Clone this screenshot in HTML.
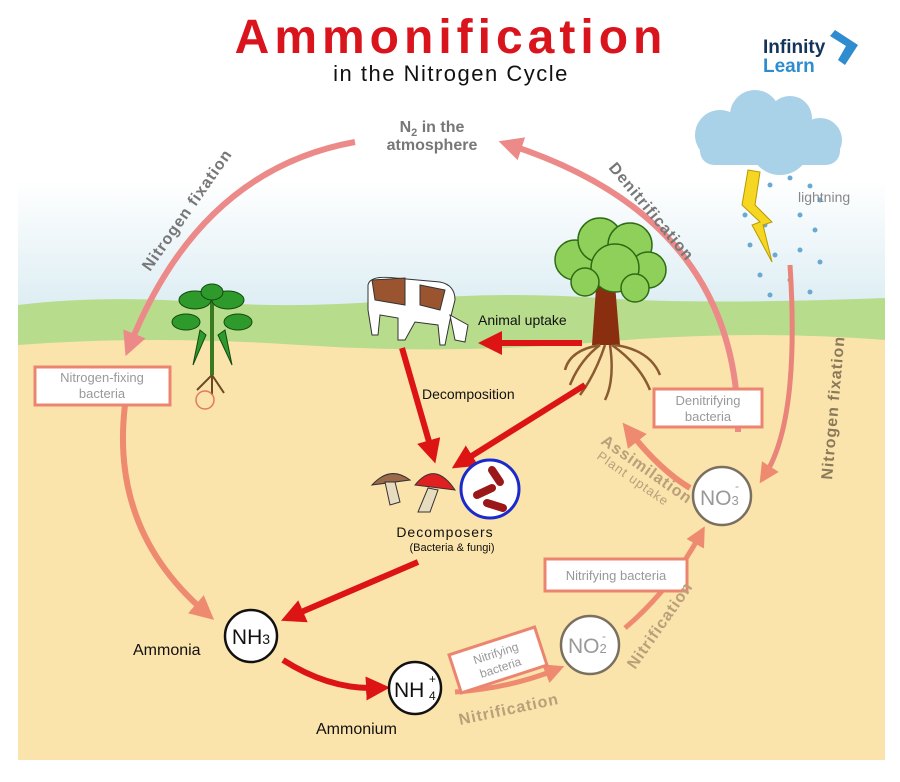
<!DOCTYPE html>
<html><head><meta charset="utf-8"><style>
html,body{margin:0;padding:0;background:#fff}
svg{display:block}
text{font-family:"Liberation Sans",sans-serif}
</style></head><body>
<svg width="900" height="782" viewBox="0 0 900 782" xmlns="http://www.w3.org/2000/svg">
<defs>
<linearGradient id="sky" x1="0" y1="0" x2="0" y2="1">
<stop offset="0" stop-color="#ffffff"/><stop offset="1" stop-color="#dcedf3"/>
</linearGradient>
<marker id="ap" markerWidth="4" markerHeight="4" refX="2" refY="2" orient="auto" markerUnits="strokeWidth"><path d="M0,0 L4,2 L0,4 z" fill="#ec8a8a"/></marker>
<marker id="ao" markerWidth="4" markerHeight="4" refX="2" refY="2" orient="auto" markerUnits="strokeWidth"><path d="M0,0 L4,2 L0,4 z" fill="#ee8a70"/></marker>
<marker id="ar" markerWidth="4" markerHeight="4" refX="2" refY="2" orient="auto" markerUnits="strokeWidth"><path d="M0,0 L4,2 L0,4 z" fill="#dd1414"/></marker>
</defs>
<rect width="900" height="782" fill="#fff"/>
<rect x="18" y="180" width="867" height="130" fill="url(#sky)"/>
<path d="M18,305 Q100,295 200,302 T400,300 T600,298 T885,298 L885,350 L18,350 z" fill="#b7dc8b"/>
<path d="M18,345 Q150,335 300,345 T600,342 T885,340 L885,760 L18,760 z" fill="#fbe3ac"/>
<!-- Title -->
<text x="451" y="53" text-anchor="middle" font-size="48" font-weight="bold" fill="#d9141d" letter-spacing="5">Ammonification</text>
<text x="451" y="81" text-anchor="middle" font-size="22" fill="#111" letter-spacing="1.5">in the Nitrogen Cycle</text>
<!-- logo -->
<text x="763" y="53" font-size="19" font-weight="bold" fill="#14345a">Infinity</text>
<text x="763" y="72" font-size="19" font-weight="bold" fill="#2e8ccf">Learn</text>
<path d="M835,30 L858,45 L845,65 L838,60 L846,46 L830,36 z" fill="#2e8ccf"/>
<!-- cloud -->
<g fill="#a9d1e8"><circle cx="720" cy="135" r="25"/><circle cx="755" cy="115" r="25"/><circle cx="790" cy="118" r="22"/><circle cx="820" cy="140" r="22"/><circle cx="780" cy="145" r="30"/><rect x="700" y="135" width="140" height="30" rx="14"/></g>
<g fill="#6aaad2">
<circle cx="750" cy="180" r="2.5"/><circle cx="770" cy="185" r="2.5"/><circle cx="790" cy="178" r="2.5"/><circle cx="810" cy="186" r="2.5"/><circle cx="820" cy="200" r="2.5"/>
<circle cx="745" cy="215" r="2.5"/><circle cx="765" cy="225" r="2.5"/><circle cx="800" cy="215" r="2.5"/><circle cx="815" cy="230" r="2.5"/><circle cx="750" cy="245" r="2.5"/>
<circle cx="775" cy="255" r="2.5"/><circle cx="800" cy="250" r="2.5"/><circle cx="820" cy="262" r="2.5"/><circle cx="760" cy="275" r="2.5"/><circle cx="790" cy="280" r="2.5"/><circle cx="810" cy="292" r="2.5"/><circle cx="770" cy="295" r="2.5"/></g>
<path d="M748,170 L760,172 L755,205 L772,222 L763,225 L772,262 L752,225 L760,222 L742,205 z" fill="#f5d623" stroke="#b89a00" stroke-width="1"/>
<text x="798" y="202" font-size="14" fill="#888">lightning</text>
<!-- big arcs -->
<path d="M355,142 Q200,170 130,345" fill="none" stroke="#ec8a8a" stroke-width="6" marker-end="url(#ap)"/>
<path d="M125,405 Q110,530 205,612" fill="none" stroke="#ee8a70" stroke-width="6" marker-end="url(#ao)"/>
<path d="M738,432 Q740,220 510,145" fill="none" stroke="#ec8a8a" stroke-width="6" marker-end="url(#ap)"/>
<path d="M790,265 Q800,420 765,475" fill="none" stroke="#e8847a" stroke-width="5" marker-end="url(#ao)"/>
<text x="432" y="132" text-anchor="middle" font-size="16" font-weight="bold" fill="#777">N<tspan font-size="11" dy="4">2</tspan><tspan dy="-4"> in the</tspan></text>
<text x="432" y="150" text-anchor="middle" font-size="16" font-weight="bold" fill="#777">atmosphere</text>
<text transform="translate(150,272) rotate(-55)" font-size="16" font-weight="bold" fill="#777" letter-spacing="1">Nitrogen fixation</text>
<text transform="translate(608,168) rotate(50)" font-size="16" font-weight="bold" fill="#777" letter-spacing="1">Denitrification</text>
<text transform="translate(832,480) rotate(-85)" font-size="16" font-weight="bold" fill="#8a7a5a" letter-spacing="1">Nitrogen fixation</text>
<!-- plant -->
<path d="M212,375 L212,295" stroke="#3a7a20" stroke-width="4"/>
<g fill="#2f9a2c" stroke="#124a10"><ellipse cx="195" cy="300" rx="16" ry="9"/><ellipse cx="228" cy="300" rx="16" ry="9"/><ellipse cx="186" cy="322" rx="14" ry="8"/><ellipse cx="238" cy="322" rx="14" ry="8"/><ellipse cx="212" cy="292" rx="11" ry="8"/><path d="M200,330 L193,365 L206,335z"/><path d="M225,330 L232,365 L218,335z"/></g>
<path d="M212,375 l-15,15 M212,375 l12,18 M212,375 l0,20" stroke="#6a4a20" stroke-width="2"/>
<circle cx="205" cy="400" r="9" fill="none" stroke="#e07a60" stroke-width="1.5"/>
<rect x="35" y="367" width="135" height="38" fill="#fff" stroke="#ec8570" stroke-width="3"/>
<text x="102" y="382" text-anchor="middle" font-size="13" fill="#999">Nitrogen-fixing</text>
<text x="102" y="398" text-anchor="middle" font-size="13" fill="#999">bacteria</text>
<!-- cow -->
<g stroke="#333" stroke-width="1">
<path d="M368,285 Q370,275 395,278 L440,282 Q455,285 455,300 L450,320 L445,345 L440,345 L438,325 L415,322 L405,340 L398,340 L398,318 L380,315 L378,335 L372,335 L368,310 z" fill="#fff"/>
<path d="M372,280 L405,278 L405,305 L375,300 z" fill="#9a5530"/>
<path d="M420,285 L445,290 L440,310 L420,305 z" fill="#9a5530"/>
<path d="M450,315 L468,325 L465,342 L455,340 z" fill="#fff"/>
</g>
<text x="478" y="325" font-size="14" fill="#111">Animal uptake</text>
<path d="M582,343 L490,343" stroke="#dd1414" stroke-width="6" marker-end="url(#ar)"/>
<!-- tree -->
<path d="M598,260 L592,345 L620,345 L613,260 z" fill="#8a2e10"/>
<g fill="#8fd05a" stroke="#2d6b12" stroke-width="1.5"><circle cx="575" cy="260" r="20"/><circle cx="600" cy="240" r="22"/><circle cx="630" cy="245" r="22"/><circle cx="648" cy="270" r="18"/><circle cx="615" cy="268" r="24"/><circle cx="585" cy="282" r="14"/><circle cx="635" cy="288" r="14"/></g>
<g fill="none" stroke="#8a5a30" stroke-width="2.5"><path d="M600,345 Q580,360 570,385"/><path d="M605,345 Q595,375 580,395"/><path d="M610,345 Q615,380 605,400"/><path d="M612,345 Q640,365 650,390"/><path d="M615,345 Q650,350 660,375"/><path d="M600,345 Q570,350 565,370"/></g>
<!-- decomposition arrows -->
<path d="M402,348 L432,452" stroke="#dd1414" stroke-width="6" marker-end="url(#ar)"/>
<path d="M585,385 L462,462" stroke="#dd1414" stroke-width="6" marker-end="url(#ar)"/>
<text x="422" y="399" font-size="14" fill="#111">Decomposition</text>
<!-- decomposers -->
<path d="M372,485 Q390,465 410,480 z" fill="#9a6a4a" stroke="#333"/>
<path d="M385,482 L390,505 L400,502 L395,482z" fill="#e8dcc0" stroke="#333"/>
<path d="M415,485 Q435,460 455,490 z" fill="#e02020" stroke="#333"/>
<path d="M428,488 L418,512 L430,512 L438,490z" fill="#e8dcc0" stroke="#333"/>
<circle cx="490" cy="489" r="29" fill="#fff" stroke="#1a2acc" stroke-width="3"/>
<g stroke="#9a1818" stroke-width="8" stroke-linecap="round"><path d="M477,495 L492,488"/><path d="M492,470 L500,482"/><path d="M487,503 L503,508"/></g>
<text x="445" y="537" text-anchor="middle" font-size="14" fill="#111" letter-spacing="1">Decomposers</text>
<text x="452" y="551" text-anchor="middle" font-size="11" fill="#111">(Bacteria &amp; fungi)</text>
<path d="M418,562 L292,616" stroke="#dd1414" stroke-width="6" marker-end="url(#ar)"/>
<!-- nodes -->
<circle cx="251" cy="636" r="26" fill="#fff" stroke="#111" stroke-width="2.5"/>
<text x="251" y="644" text-anchor="middle" font-size="21" fill="#111">NH<tspan font-size="14">3</tspan></text>
<text x="133" y="655" font-size="16" fill="#111">Ammonia</text>
<path d="M283,660 Q330,690 378,688" fill="none" stroke="#dd1414" stroke-width="6" marker-end="url(#ar)"/>
<circle cx="415" cy="688" r="26" fill="#fff" stroke="#111" stroke-width="2.5"/>
<text x="394" y="697" font-size="21" fill="#111">NH</text>
<text x="429" y="683" font-size="12" fill="#111">+</text><text x="429" y="700" font-size="12" fill="#111">4</text>
<text x="316" y="734" font-size="16" fill="#111">Ammonium</text>
<path d="M455,692 Q510,688 555,670" fill="none" stroke="#ee8a70" stroke-width="5" marker-end="url(#ao)"/>
<g transform="translate(498,660) rotate(-18)"><rect x="-45" y="-20" width="90" height="40" fill="#fff" stroke="#ec8570" stroke-width="3"/>
<text x="0" y="-3" text-anchor="middle" font-size="12" fill="#999">Nitrifying</text><text x="0" y="12" text-anchor="middle" font-size="12" fill="#999">bacteria</text></g>
<text transform="translate(460,725) rotate(-12)" font-size="16" font-weight="bold" fill="#b8a07a" letter-spacing="1">Nitrification</text>
<circle cx="590" cy="645" r="29" fill="#fff" stroke="#7a7060" stroke-width="2.5"/>
<text x="568" y="653" font-size="21" fill="#999">NO<tspan font-size="13">2</tspan></text>
<text x="602" y="640" font-size="12" fill="#999">-</text>
<path d="M625,628 Q670,590 700,535" fill="none" stroke="#ee8a70" stroke-width="5" marker-end="url(#ao)"/>
<rect x="545" y="559" width="142" height="32" fill="#fff" stroke="#ec8570" stroke-width="3"/>
<text x="616" y="580" text-anchor="middle" font-size="13" fill="#999">Nitrifying bacteria</text>
<text transform="translate(635,670) rotate(-55)" font-size="16" font-weight="bold" fill="#b8a07a" letter-spacing="1">Nitrification</text>
<circle cx="722" cy="496" r="29" fill="#fff" stroke="#7a7060" stroke-width="2.5"/>
<text x="700" y="505" font-size="21" fill="#999">NO<tspan font-size="13">3</tspan></text>
<text x="735" y="490" font-size="12" fill="#999">-</text>
<path d="M690,488 Q660,470 630,432" fill="none" stroke="#ee8a70" stroke-width="6" marker-end="url(#ao)"/>
<rect x="654" y="389" width="108" height="38" fill="#fff" stroke="#ec8570" stroke-width="3"/>
<text x="708" y="405" text-anchor="middle" font-size="13" fill="#999">Denitrifying</text>
<text x="708" y="421" text-anchor="middle" font-size="13" fill="#999">bacteria</text>
<text transform="translate(600,443) rotate(35)" font-size="16" font-weight="bold" fill="#b8a07a" letter-spacing="1">Assimilation</text>
<text transform="translate(596,458) rotate(35)" font-size="13" fill="#b8a07a" letter-spacing="1">Plant uptake</text>
<rect x="885" y="0" width="15" height="782" fill="#fff"/>
</svg>
</body></html>
